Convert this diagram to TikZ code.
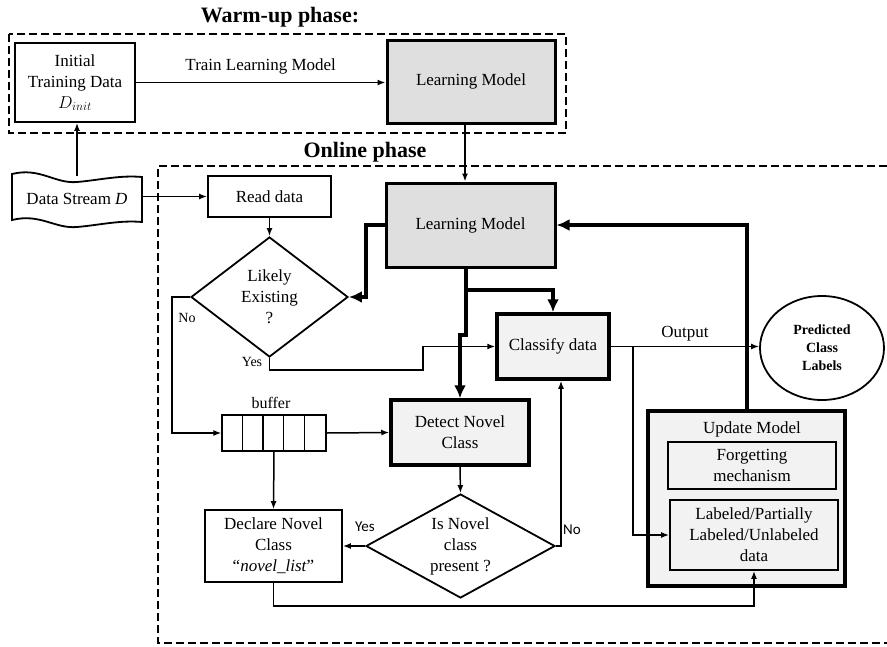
\documentclass[tikz,border=0pt]{standalone}
\usepackage{fontspec}
\setmainfont{Liberation Serif}
\newfontfamily\labelsans{Carlito}
\usetikzlibrary{shapes.geometric,arrows.meta,calc}

\begin{document}
\begin{tikzpicture}[x=1pt,y=-1pt,
  every node/.style={font=\fontsize{17}{21}\selectfont, inner sep=0pt, align=center},
  plainbox/.style={draw, line width=1.8pt, fill=white},
  heavybox/.style={draw, line width=3.5pt, fill=gray!10},
  modelbox/.style={draw, line width=3pt, fill=gray!25},
  decision/.style={draw, diamond, line width=1.8pt, fill=white},
  arr/.style={line width=1.5pt, -{Latex[length=8pt,width=6pt]}},
  heavyarr/.style={line width=4pt, -{Latex[length=13pt,width=12pt]}},
  heavyline/.style={line width=4pt},
  phasebox/.style={line width=2pt, dash pattern=on 8pt off 4pt},
  phasetitle/.style={font=\fontsize{22}{26}\selectfont\bfseries},
  yesno/.style={font=\fontsize{14}{16}\selectfont},
  yesnosans/.style={font=\fontsize{15}{17}\selectfont\labelsans}
]
\useasboundingbox (0,0) rectangle (887,646);

% phase frames
\draw[phasebox] (9,34) rectangle (566,133);
\draw[phasebox] (887,166) -- (158,166) -- (158,643) -- (887,643);
\node[phasetitle] (warmtitle) at (280,17) {Warm-up phase:};
\node[phasetitle] (onlinetitle) at (365,152) {Online phase};

% warm-up phase
\node[plainbox, minimum width=120, minimum height=79] (init) at (75,82.5)
  {Initial\\Training Data\\$D_{init}$};
\node[modelbox, minimum width=168, minimum height=83] (lm1) at (471,81.5) {Learning Model};

% data stream (tape)
\draw[line width=1.8pt, fill=white]
  (12,174) .. controls (40,167) and (55,184) .. (77,182)
  .. controls (100,180) and (120,175) .. (142,177)
  -- (142,222)
  .. controls (120,220) and (100,225) .. (77,227)
  .. controls (55,229) and (40,213) .. (12,220) -- cycle;
\node[minimum width=130, minimum height=46] (stream) at (77,199) {Data Stream \textit{D}};

% online phase
\node[plainbox, minimum width=123, minimum height=41] (read) at (269.5,196.5) {Read data};
\node[decision, minimum width=157, minimum height=120, aspect=1.3] (likely) at (269.5,297)
  {Likely\\Existing\\?};
\node[modelbox, minimum width=169, minimum height=84] (lm2) at (470.5,225) {Learning Model};
\node[heavybox, minimum width=112, minimum height=65] (cls) at (553,346.5) {Classify data};
\node[draw, ellipse, line width=1.8pt, minimum width=124, minimum height=104,
      font=\fontsize{14}{18}\selectfont\bfseries] (pred) at (822,348)
  {Predicted\\Class\\Labels};

% buffer with five cells
\node[draw, line width=1.2pt, minimum width=104, minimum height=36] (buf) at (274,433) {};
\foreach \k in {1,2,3,4}
  \draw[line width=1.2pt] ($(buf.north west)+(20.8*\k,0)$) -- ($(buf.south west)+(20.8*\k,0)$);
\node[font=\fontsize{16}{18}\selectfont] (buflabel) at (271,403) {buffer};

\node[heavybox, minimum width=138, minimum height=65] (det) at (460,432.5) {Detect Novel\\Class};
\node[decision, minimum width=189, minimum height=104, aspect=1.8] (isnov) at (460.5,546)
  {Is Novel\\class\\present ?};
\node[plainbox, minimum width=137, minimum height=72] (decl) at (273.5,546)
  {Declare Novel\\Class\\“\textit{novel\_list}\char"22};

% update model block
\node[draw, line width=4pt, fill=gray!10, minimum width=197, minimum height=175] (upd) at (746.5,498.5) {};
\node (updtitle) at (752,429) {Update Model};
\node[draw, line width=1.8pt, fill=gray!10, minimum width=168, minimum height=47] (forg) at (752,465.5)
  {Forgetting\\mechanism};
\node[draw, line width=1.8pt, fill=gray!10, minimum width=168, minimum height=70] (lab) at (754,535)
  {Labeled/Partially\\Labeled/Unlabeled\\data};

% connectors
\draw[arr] (init.east) -- (init.east -| lm1.west)
  node[midway, above=8pt] (trainlabel) {Train Learning Model};
\draw[arr] (stream.north) -- (stream.north |- init.south);
\draw[arr] (read.west -| stream.east) -- (read.west);
\draw[arr] (read.south) -- (likely.north);
\draw[arr] (lm1.south -| 465,0) -- (lm2.north -| 465,0);

\draw[heavyarr] (lm2.west) -- ++(-19,0) |- (likely.east);
\coordinate (split) at (466,290);
\draw[heavyline] (lm2.south -| split) -- (split);
\draw[heavyarr] (split) -| (cls.north);
\draw[heavyarr] (split) -- (466,335) -| (det.north);

\draw[arr] (cls.east) -- (cls.east -| pred.west)
  node[midway, above=5pt] (outlabel) {Output};
\draw[arr] (cls.east -| 633,0) |- (lab.west);

\draw[arr] (likely.south) |- (423,370) |- (cls.west);
\node[yesno] (yes1) at (252,362) {Yes};
\draw[arr] (likely.west) -| (172,433) -- (buf.west);
\node[yesno] (no1) at (187,318) {No};

\draw[arr] (buf.east) -- (det.west);
\draw[arr] (buf.south) -- (decl.north);
\draw[arr] (det.south) -- (isnov.north);
\draw[arr] (isnov.west) -- (decl.east);
\node[yesnosans] (yes2) at (365,527) {Yes};
\draw[arr] (isnov.east) -| ($(cls.south)+(8,0)$);
\node[yesnosans] (no2) at (572,530) {No};

\draw[arr] (decl.south) |- ($(lab.south)+(0,35)$) -- (lab.south);
\draw[heavyarr] (upd.north) |- (lm2.east);

\end{tikzpicture}
\end{document}
